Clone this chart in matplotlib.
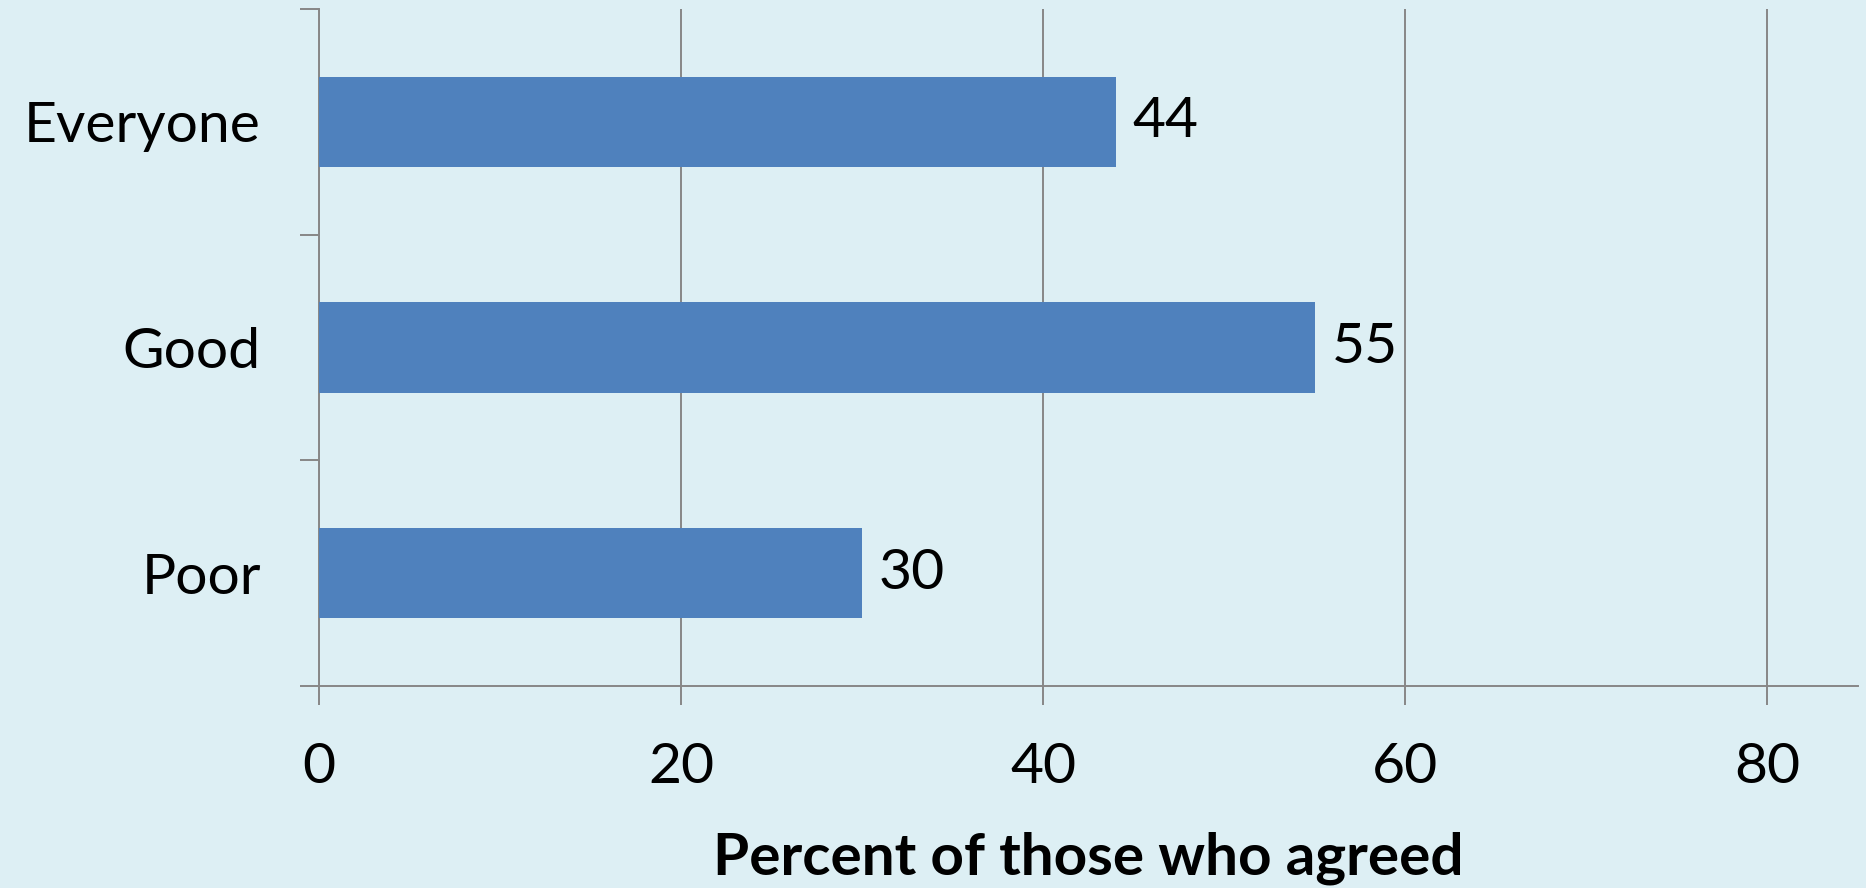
import matplotlib
matplotlib.use("Agg")
import matplotlib.pyplot as plt

categories = ["Everyone", "Good", "Poor"]
values = [44, 55, 30]
xticks = [0, 20, 40, 60, 80]
xlabel = "Percent of those who agreed"

plt.rcParams['font.family'] = ['Lato', 'DejaVu Sans']

bg = '#ddeff4'
bar_color = '#4f81bd'
grid_color = '#878787'
fs = 41

fig = plt.figure(figsize=(18.66, 8.88), dpi=100, facecolor=bg)
ax = fig.add_axes([0.171, 0.2275, 0.8247, 0.7624], facecolor=bg)

ypos = list(range(len(categories)))
ax.barh(ypos, values, height=0.4, color=bar_color, zorder=3)
ax.set_ylim(len(categories) - 0.5, -0.5)
ax.set_xlim(0, 85)

for y, v in zip(ypos, values):
    ax.annotate(str(v), (v, y), xytext=(12, 0), textcoords='offset points',
                va='center', ha='left', fontsize=fs, color='black', zorder=4)

ax.set_xticks(xticks)
ax.set_xticklabels([str(t) for t in xticks], fontsize=fs)
ax.set_yticks(ypos)
ax.set_yticklabels(categories, fontsize=fs)
ax.set_yticks([-0.5 + i for i in range(len(categories) + 1)], minor=True)
ax.tick_params(axis='y', which='major', length=0, pad=42)
ax.tick_params(axis='y', which='minor', length=14, width=1.4, color=grid_color, direction='out')
ax.tick_params(axis='x', which='major', length=14, width=1.4, color=grid_color, direction='out', pad=26)

ax.grid(axis='x', color=grid_color, linewidth=1.4, zorder=1)
for s in ['top', 'right']:
    ax.spines[s].set_visible(False)
for s in ['left', 'bottom']:
    ax.spines[s].set_color(grid_color)
    ax.spines[s].set_linewidth(1.4)

ax.set_xlabel(xlabel, fontsize=42, fontweight='bold', labelpad=28)

fig.savefig("out.png", dpi=100, facecolor=bg)
